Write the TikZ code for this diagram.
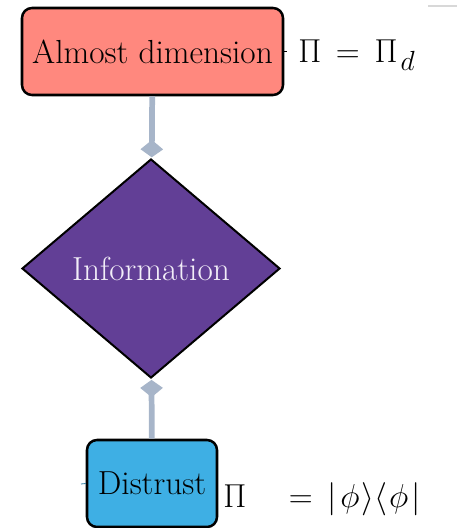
\documentclass[tikz,border=0pt]{standalone}
\usetikzlibrary{shapes.geometric,arrows.meta}
\definecolor{topfill}{HTML}{FF887E}
\definecolor{diafill}{HTML}{623F96}
\definecolor{botfill}{HTML}{3EAFE4}
\definecolor{arrgray}{HTML}{A7B5C9}
\definecolor{ticklight}{HTML}{D8D8D8}
\definecolor{infotext}{HTML}{F2EEF8}
\begin{document}
\begin{tikzpicture}[x=0.75pt,y=-0.75pt,
  every node/.style={font=\fontsize{25}{30}\selectfont},
  boxnode/.style={draw=black,line width=1.9pt,rounded corners=7.5pt,minimum height=65.25pt,inner sep=0pt},
  dianode/.style={diamond,draw=black,line width=1.5pt,fill=diafill,text=infotext,minimum width=193.5pt,minimum height=164.25pt,inner sep=0pt},
  flowarrow/.style={draw=arrgray,line width=4.3pt,-{Kite[length=13pt,width=17pt,inset=7pt]},shorten >=1pt},
  mathlabel/.style={inner sep=0pt,font=\fontsize{31}{37}\selectfont}]
\useasboundingbox (0,0) rectangle (457,528);
\node[boxnode,fill=topfill,minimum width=195.75pt] (top) at (152.5,51.5) {Almost dimension};
\node[dianode] (dia) at (151,268.5) {Information};
\node[boxnode,fill=botfill,minimum width=97.5pt] (bot) at (152,483.5) {Distrust};
\draw[flowarrow] (top) -- (dia);
\draw[flowarrow] (bot) -- (dia);
\node[mathlabel,anchor=base west] (lab1) at (298,63) {$\Pi\mkern3mu=\mkern3mu\Pi_{\mkern2mu d}$};
\coordinate (tick1) at (287,51.5);
\draw[line width=0.6pt] (top.east) -- (tick1);
\node[mathlabel,anchor=base west] (lab2) at (223,507) {$\Pi\hspace{25pt} =\mkern3mu |\mkern2mu\phi\mkern1mu\rangle\langle\mkern1mu\phi\mkern2mu|$};
\coordinate (tickstart) at (81,484);
\draw[botfill!70!black,line width=0.6pt] (tickstart) -- (bot.west);
\coordinate (gl) at (428,6);
\coordinate (gr) at (457,6);
\draw[ticklight,line width=0.8pt] (gl) -- (gr);
\end{tikzpicture}
\end{document}
